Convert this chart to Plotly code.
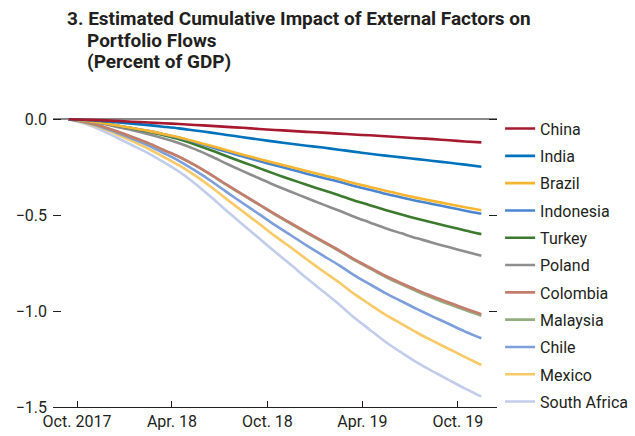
import plotly.graph_objects as go
import pandas as pd

# Monthly observations, Sep. 2017 – Nov. 2019 (mid-month)
dates = pd.date_range("2017-09-01", periods=27, freq="MS") + pd.Timedelta(days=14)

china = [0, -0.003, -0.005, -0.009, -0.013, -0.017, -0.021, -0.025, -0.030, -0.035, -0.040, -0.045, -0.051, -0.056,
         -0.061, -0.066, -0.070, -0.075, -0.080, -0.084, -0.089, -0.094, -0.099, -0.104, -0.110, -0.116, -0.121]
india = [0, -0.004, -0.009, -0.016, -0.023, -0.031, -0.039, -0.048, -0.059, -0.070, -0.082, -0.094, -0.106, -0.117,
         -0.128, -0.138, -0.148, -0.159, -0.169, -0.180, -0.190, -0.199, -0.208, -0.218, -0.227, -0.237, -0.248]
brazil = [0, -0.008, -0.019, -0.032, -0.046, -0.061, -0.077, -0.095, -0.116, -0.139, -0.162, -0.185, -0.207, -0.228,
          -0.249, -0.270, -0.291, -0.312, -0.333, -0.353, -0.373, -0.392, -0.410, -0.427, -0.443, -0.459, -0.475]
indonesia = [0, -0.008, -0.019, -0.032, -0.046, -0.061, -0.078, -0.097, -0.120, -0.145, -0.170, -0.195, -0.218, -0.240,
             -0.262, -0.284, -0.305, -0.326, -0.347, -0.368, -0.389, -0.408, -0.426, -0.443, -0.460, -0.477, -0.493]
turkey = [0, -0.008, -0.018, -0.033, -0.048, -0.065, -0.083, -0.105, -0.132, -0.162, -0.193, -0.224, -0.255, -0.285,
          -0.314, -0.342, -0.369, -0.396, -0.422, -0.448, -0.473, -0.497, -0.519, -0.540, -0.560, -0.580, -0.599]
poland = [0, -0.008, -0.021, -0.039, -0.057, -0.078, -0.099, -0.125, -0.156, -0.193, -0.232, -0.271, -0.308, -0.344,
          -0.378, -0.411, -0.444, -0.476, -0.507, -0.538, -0.568, -0.595, -0.621, -0.645, -0.668, -0.690, -0.712]
colombia = [0, -0.013, -0.034, -0.062, -0.093, -0.125, -0.159, -0.196, -0.239, -0.289, -0.341, -0.393, -0.444, -0.494,
            -0.542, -0.589, -0.636, -0.682, -0.728, -0.773, -0.816, -0.855, -0.891, -0.925, -0.957, -0.987, -1.016]
malaysia = [0, -0.014, -0.035, -0.063, -0.094, -0.126, -0.160, -0.197, -0.240, -0.291, -0.343, -0.395, -0.446, -0.496,
            -0.545, -0.592, -0.639, -0.686, -0.732, -0.777, -0.821, -0.861, -0.898, -0.933, -0.965, -0.995, -1.024]
chile = [0, -0.016, -0.039, -0.069, -0.102, -0.137, -0.175, -0.218, -0.267, -0.322, -0.380, -0.438, -0.495, -0.551,
         -0.605, -0.658, -0.710, -0.761, -0.811, -0.860, -0.906, -0.949, -0.990, -1.030, -1.069, -1.107, -1.142]
mexico = [0, -0.018, -0.044, -0.077, -0.114, -0.154, -0.195, -0.241, -0.293, -0.353, -0.417, -0.481, -0.545, -0.608,
          -0.669, -0.730, -0.791, -0.850, -0.908, -0.965, -1.019, -1.067, -1.113, -1.157, -1.199, -1.240, -1.281]
south_africa = [0, -0.023, -0.055, -0.094, -0.136, -0.178, -0.222, -0.274, -0.335, -0.406, -0.478, -0.550, -0.621, -0.690,
                -0.759, -0.828, -0.896, -0.964, -1.031, -1.097, -1.160, -1.217, -1.269, -1.316, -1.361, -1.404, -1.446]

countries = ["China", "India", "Brazil", "Indonesia", "Turkey", "Poland",
             "Colombia", "Malaysia", "Chile", "Mexico", "South Africa"]
series = [china, india, brazil, indonesia, turkey, poland,
          colombia, malaysia, chile, mexico, south_africa]
colors = ["#a6192e", "#0072bc", "#f6b530", "#4a86d0", "#3c7a2e", "#8e8e8e",
          "#c47d6d", "#93ad7e", "#7c9edb", "#f8c967", "#c1cdea"]

tick_dates = ["2017-10-01", "2018-04-01", "2018-10-01", "2019-04-01", "2019-10-01"]
tick_labels = ["Oct. 2017", "Apr. 18", "Oct. 18", "Apr. 19", "Oct. 19"]
y_tick_vals = [0, -0.5, -1.0, -1.5]
y_tick_labels = ["0.0", "\u22120.5", "\u22121.0", "\u22121.5"]

FONT = "Roboto, Liberation Sans, sans-serif"
INK = "#231f20"

fig = go.Figure()
entries = list(enumerate(zip(countries, series, colors)))
# draw in reverse so China sits on top; legendrank keeps the listed order
for rank, (name, vals, col) in reversed(entries):
    fig.add_trace(go.Scatter(x=dates, y=vals, name=name, mode="lines",
                             line=dict(color=col, width=2.6, shape="spline", smoothing=0.8),
                             legendgroup=name, legendrank=rank + 1))

fig.update_layout(
    width=635, height=436,
    margin=dict(l=53, r=138, t=100, b=29, autoexpand=False),
    paper_bgcolor="white", plot_bgcolor="white",
    font=dict(family=FONT, size=16, color=INK),
    showlegend=True,
    legend=dict(x=1.007, xanchor="left", y=0.962, yanchor="top",
                traceorder="grouped", tracegroupgap=3.5,
                font=dict(family=FONT, size=16, color=INK),
                bgcolor="rgba(0,0,0,0)"),
    xaxis=dict(type="date", range=["2017-08-16", "2019-12-15"],
               tickvals=tick_dates, ticktext=tick_labels, automargin=False,
               ticks="inside", ticklen=6, tickwidth=1, tickcolor=INK,
               showline=True, linecolor=INK, linewidth=1.2,
               showgrid=False, zeroline=False,
               tickfont=dict(family=FONT, size=16, color=INK)),
    yaxis=dict(range=[-1.5, 0.1], tickvals=y_tick_vals, ticktext=y_tick_labels,
               ticks="inside", ticklen=8, tickwidth=1, tickcolor=INK, automargin=False,
               ticklabelstandoff=5,
               mirror="ticks", showline=False, showgrid=False,
               zeroline=True, zerolinecolor="#8a8a8a", zerolinewidth=2,
               tickfont=dict(family=FONT, size=16, color=INK)),
)

title_lines = ["3. Estimated Cumulative Impact of External Factors on",
               "Portfolio Flows", "(Percent of GDP)"]
title_x = [0.027, 0.072, 0.072]
title_y = [1.267, 1.195, 1.124]
for txt, tx, ty in zip(title_lines, title_x, title_y):
    fig.add_annotation(text="<b>" + txt + "</b>", xref="paper", yref="paper",
                       x=tx, y=ty, xanchor="left", yanchor="middle", showarrow=False,
                       font=dict(family=FONT, size=19, color=INK))

fig.write_html("out.html", config={"displayModeBar": False},
               post_script="document.body.style.margin='0px';")
